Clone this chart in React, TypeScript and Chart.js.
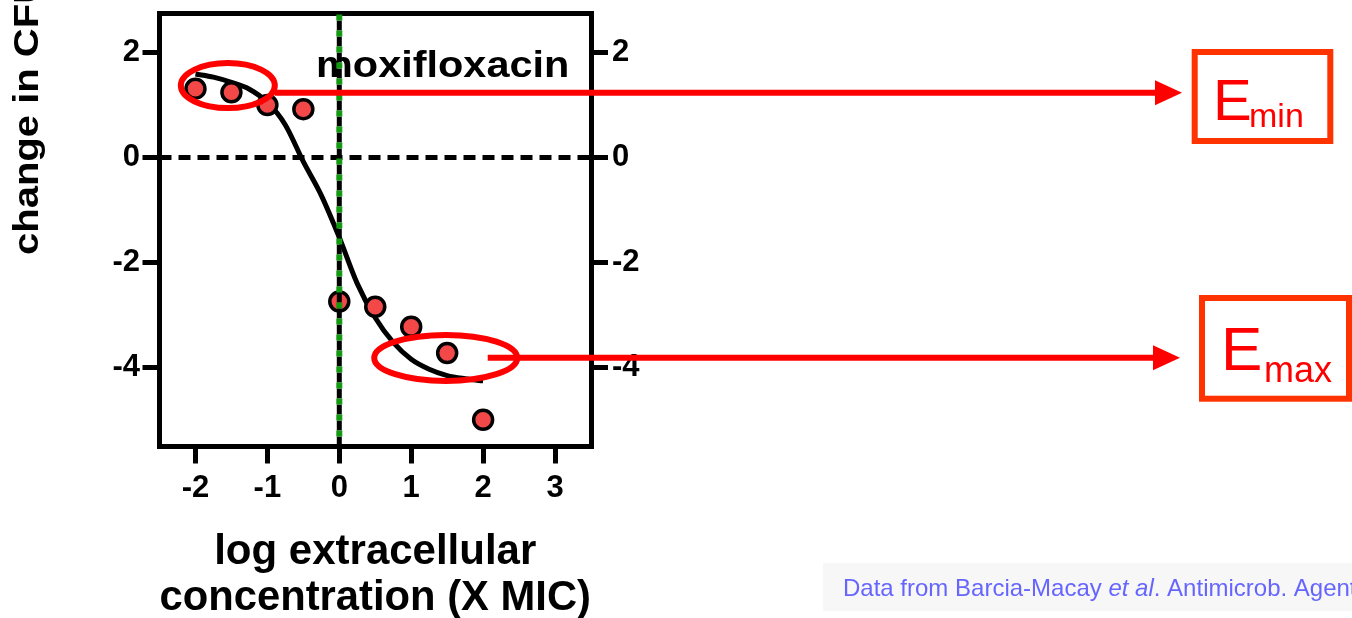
import React, { useEffect, useRef } from 'react';
import { Chart, registerables } from 'chart.js';

Chart.register(...registerables);

// ---------- data ----------
const concLog = [-2, -1.5, -1, -0.5, 0, 0.5, 1, 1.5, 2];
const cfuChange = [1.31, 1.24, 1.0, 0.92, -2.74, -2.84, -3.22, -3.72, -4.99];
const fitX = [-2, -1.75, -1.5, -1.25, -1, -0.75, -0.5, -0.25, 0, 0.25, 0.5, 0.75, 1, 1.25, 1.5, 1.75, 2];
const fitY = [1.59, 1.53, 1.43, 1.3, 1.05, 0.62, -0.08, -0.72, -1.52, -2.4, -3.05, -3.52, -3.84, -4.03, -4.15, -4.21, -4.25];
const xTicks = [-2, -1, 0, 1, 2, 3];
const yTicks = [-4, -2, 0, 2];
const xRange = [-2.5, 3.5];
const yRange = [-5.5, 2.75];
const micValue = 0;
const noChangeValue = 0;
const xTitle = ['log extracellular', 'concentration (X MIC)'];
const yTitle = 'change in CFU from time 0 (log)';
const drugLabel = 'moxifloxacin';
const eminLabel = ['E', 'min'];
const emaxLabel = ['E', 'max'];
const sourceParts = ['Data from Barcia-Macay ', 'et al', '. Antimicrob. Agents Chemother. 2006;50:841-51'];
// annotation anchors (data units)
const eminCenter = { x: -1.55, y: 1.37 };
const emaxCenter = { x: 1.48, y: -3.815 };
const eminArrowY = 1.23;
const emaxArrowY = -3.81;

const FONT = "'Liberation Sans', Arial, Helvetica, sans-serif";
const RED = '#FF0000';
const BOX = '#FF3300';

const decor = {
  id: 'decor',
  beforeDatasetsDraw(chart: any) {
    const { ctx } = chart;
    ctx.save();
    ctx.font = `bold 37px ${FONT}`;
    ctx.fillStyle = '#000';
    ctx.textBaseline = 'alphabetic';
    ctx.textAlign = 'left';
    ctx.translate(316, 77);
    ctx.scale(1.12, 1);
    ctx.fillText(drugLabel, 0, 0);
    ctx.restore();
  },
  afterDraw(chart: any) {
    const { ctx } = chart;
    const xs = chart.scales.x;
    const ys = chart.scales.y;

    // y axis title (rotated)
    ctx.save();
    ctx.translate(38, 255);
    ctx.rotate(-Math.PI / 2);
    ctx.scale(1, 0.88);
    ctx.font = `bold 40px ${FONT}`;
    ctx.fillStyle = '#000';
    ctx.textAlign = 'left';
    ctx.textBaseline = 'alphabetic';
    ctx.fillText(yTitle, 0, 0);
    ctx.restore();

    // ellipses
    ctx.save();
    ctx.strokeStyle = RED;
    ctx.lineWidth = 6;
    const e1x = xs.getPixelForValue(eminCenter.x);
    const e1y = ys.getPixelForValue(eminCenter.y);
    ctx.beginPath();
    ctx.ellipse(e1x, e1y, 47, 22.5, 0, 0, Math.PI * 2);
    ctx.stroke();
    const e2x = xs.getPixelForValue(emaxCenter.x);
    const e2y = ys.getPixelForValue(emaxCenter.y);
    ctx.beginPath();
    ctx.ellipse(e2x, e2y, 71.5, 23, 0, 0, Math.PI * 2);
    ctx.stroke();

    // arrows
    const arrow = (x0: number, y: number, tip: number) => {
      ctx.strokeStyle = RED;
      ctx.fillStyle = RED;
      ctx.lineWidth = 6;
      ctx.beginPath();
      ctx.moveTo(x0, y);
      ctx.lineTo(tip - 20, y);
      ctx.stroke();
      ctx.beginPath();
      ctx.moveTo(tip, y);
      ctx.lineTo(tip - 27, y - 12.5);
      ctx.lineTo(tip - 27, y + 12.5);
      ctx.closePath();
      ctx.fill();
    };
    arrow(e1x + 47, ys.getPixelForValue(eminArrowY), 1182);
    arrow(e2x + 42, ys.getPixelForValue(emaxArrowY), 1180);

    // boxes
    ctx.strokeStyle = BOX;
    ctx.lineWidth = 6;
    ctx.strokeRect(1194.7, 52, 135.6, 89);
    ctx.strokeRect(1202, 298, 147, 100.7);
    ctx.fillStyle = RED;
    ctx.textBaseline = 'alphabetic';
    ctx.textAlign = 'left';
    ctx.font = `58px ${FONT}`;
    ctx.fillText(eminLabel[0], 1213, 120);
    ctx.font = `34px ${FONT}`;
    ctx.fillText(eminLabel[1], 1249, 127);
    ctx.font = `62px ${FONT}`;
    ctx.fillText(emaxLabel[0], 1221, 370);
    ctx.font = `36px ${FONT}`;
    ctx.fillText(emaxLabel[1], 1264, 382);

    // source note
    ctx.fillStyle = '#F7F7F7';
    ctx.fillRect(823, 563, 529, 48);
    ctx.fillStyle = '#6666FF';
    let tx = 843;
    sourceParts.forEach((part, i) => {
      ctx.font = `${i === 1 ? 'italic ' : ''}24px ${FONT}`;
      ctx.fillText(part, tx, 596);
      tx += ctx.measureText(part).width;
    });
    ctx.restore();
  },
};

const tickFont = { family: FONT, size: 31, weight: 'bold' as const };
const tickGrid = { display: true, drawOnChartArea: false, drawTicks: true, tickLength: 17, tickWidth: 5, lineWidth: 5, tickColor: '#000' };
const axisBorder = { display: true, width: 5, color: '#000' };

export default function App() {
  const ref = useRef<HTMLCanvasElement | null>(null);

  useEffect(() => {
    if (!ref.current) return;
    Chart.defaults.font.family = FONT;
    const zeroPad = (s: any) => {
      s.paddingTop = 0;
      s.paddingBottom = 0;
      s.paddingLeft = 0;
      s.paddingRight = 0;
    };
    const chart = new Chart(ref.current, {
      type: 'scatter',
      data: {
        datasets: [
          {
            label: 'MIC',
            data: [
              { x: micValue, y: yRange[0] },
              { x: micValue, y: yRange[1] },
            ],
            showLine: true,
            borderColor: '#119A11',
            borderWidth: 6,
            borderDash: [6, 10],
            borderDashOffset: 6,
            pointRadius: 0,
            order: 0,
          },
          {
            label: 'MIC black',
            data: [
              { x: micValue, y: yRange[0] },
              { x: micValue, y: yRange[1] },
            ],
            showLine: true,
            borderColor: '#000',
            borderWidth: 5,
            borderDash: [10, 6],
            pointRadius: 0,
            order: 1,
          },
          {
            label: 'observed',
            data: concLog.map((x, i) => ({ x, y: cfuChange[i] })),
            showLine: false,
            pointRadius: 9.5,
            borderWidth: 3.5,
            backgroundColor: '#F24848',
            borderColor: '#000',
            order: 2,
          },
          {
            label: 'fit',
            data: fitX.map((x, i) => ({ x, y: fitY[i] })),
            showLine: true,
            borderColor: '#000',
            borderWidth: 5,
            pointRadius: 0,
            tension: 0.4,
            cubicInterpolationMode: 'monotone',
            order: 3,
          },
          {
            label: 'no change',
            data: [
              { x: xRange[0], y: noChangeValue },
              { x: xRange[1], y: noChangeValue },
            ],
            showLine: true,
            borderColor: '#000',
            borderWidth: 5,
            borderDash: [12, 7],
            pointRadius: 0,
            order: 4,
          },
        ],
      },
      options: {
        responsive: false,
        maintainAspectRatio: false,
        animation: false,
        events: [],
        layout: { padding: { top: 12.5, left: 0, right: 0, bottom: 0 } },
        plugins: { legend: { display: false }, tooltip: { enabled: false }, title: { display: false } },
        scales: {
          x: {
            type: 'linear',
            position: 'bottom',
            min: xRange[0],
            max: xRange[1],
            afterBuildTicks: (axis: any) => {
              axis.ticks = xTicks.map((v) => ({ value: v }));
            },
            afterFit: (s: any) => {
              s.height = 171.5;
              zeroPad(s);
            },
            ticks: { font: tickFont, color: '#000', padding: 6.5, maxRotation: 0, autoSkip: false },
            grid: tickGrid,
            border: axisBorder,
            title: {
              display: true,
              text: xTitle,
              color: '#000',
              font: { family: FONT, size: 42, weight: 'bold', lineHeight: 46 / 42 },
              padding: { top: 0, bottom: -3.5 },
            },
          },
          x2: {
            type: 'linear',
            position: 'top',
            min: xRange[0],
            max: xRange[1],
            afterFit: (s: any) => {
              s.height = 0;
              zeroPad(s);
            },
            ticks: { display: false },
            grid: { display: false, drawTicks: false },
            border: axisBorder,
          },
          y: {
            type: 'linear',
            position: 'left',
            min: yRange[0],
            max: yRange[1],
            afterBuildTicks: (axis: any) => {
              axis.ticks = yTicks.map((v) => ({ value: v }));
            },
            afterFit: (s: any) => {
              s.width = 159.5;
              zeroPad(s);
            },
            ticks: { font: tickFont, color: '#000', padding: 2.5, autoSkip: false },
            grid: tickGrid,
            border: axisBorder,
          },
          y2: {
            type: 'linear',
            position: 'right',
            min: yRange[0],
            max: yRange[1],
            afterBuildTicks: (axis: any) => {
              axis.ticks = yTicks.map((v) => ({ value: v }));
            },
            afterFit: (s: any) => {
              s.width = 761;
              zeroPad(s);
            },
            ticks: { font: tickFont, color: '#000', padding: 4, autoSkip: false },
            grid: tickGrid,
            border: axisBorder,
          },
        },
      } as any,
      plugins: [decor],
    });
    return () => chart.destroy();
  }, []);

  return (
    <div style={{ position: 'fixed', left: 0, top: 0, width: 1352, height: 618, background: '#fff', overflow: 'hidden' }}>
      <canvas ref={ref} width={1352} height={618} style={{ display: 'block' }} />
    </div>
  );
}
